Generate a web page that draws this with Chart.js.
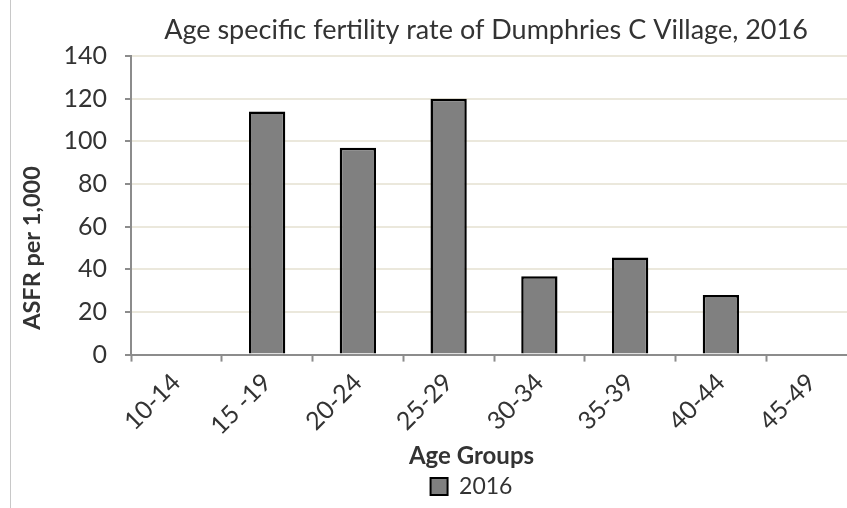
<!DOCTYPE html>
<html>
<head>
<meta charset="utf-8">
<script src="https://cdn.jsdelivr.net/npm/chart.js@4"></script>
<style>
  html, body { margin: 0; padding: 0; background: #fff; overflow: hidden; }
  .wrap { position: relative; width: 847px; height: 508px; overflow: hidden; }
  .frame-line { position: absolute; left: 10px; top: 0; width: 1px; height: 508px; background: #c8c8c8; }
  #asfrChart { position: absolute; left: 0; top: 0; }
</style>
</head>
<body>
<div class="wrap">
  <canvas id="asfrChart" width="860" height="508"></canvas>
  <div class="frame-line"></div>
</div>
<script>
const ageGroups = ["10-14", "15 -19", "20-24", "25-29", "30-34", "35-39", "40-44", "45-49"];
const asfr2016 = [0, 114, 97, 120, 36.7, 45.5, 28, 0];
const yTicks = [0, 20, 40, 60, 80, 100, 120, 140];

const chartTitle = "Age specific fertility rate of Dumphries C Village, 2016";
const yTitle = "ASFR per 1,000";
const xTitle = "Age Groups";

const textColor = "#333333";
const axisColor = "#8c8c8c";

// title and y axis title sit off-centre in the original, so draw them here;
// the legend block is also nudged right to where it sits in the original
const titlesPlugin = {
  id: "titles",
  afterLayout(chart) {
    chart.legend.left += 15;
    chart.legend.right += 15;
  },
  afterDraw(chart) {
    const ctx = chart.ctx;
    ctx.save();
    ctx.fillStyle = textColor;
    ctx.textAlign = "center";
    ctx.textBaseline = "middle";
    ctx.font = "27px Lato";
    ctx.fillText(chartTitle, 486, 30);
    ctx.translate(32, 248);
    ctx.rotate(-Math.PI / 2);
    ctx.font = "bold 23.5px Lato";
    ctx.fillText(yTitle, 0, 0);
    ctx.restore();
  },
};

const ctx = document.getElementById("asfrChart").getContext("2d");

new Chart(ctx, {
  type: "bar",
  data: {
    labels: ageGroups,
    datasets: [
      {
        label: "2016",
        data: asfr2016,
        backgroundColor: "#808080",
        borderColor: "#000000",
        borderWidth: 2.5,
        borderSkipped: "start",
        barPercentage: 0.4,
        categoryPercentage: 1,
      },
    ],
  },
  options: {
    responsive: false,
    animation: false,
    layout: { padding: { left: 56, right: 3, top: 56, bottom: 0 } },
    plugins: {
      tooltip: { enabled: false },
      legend: {
        position: "bottom",
        title: {
          display: true,
          text: xTitle,
          color: textColor,
          font: { family: "Lato", size: 24, weight: "bold", lineHeight: 1.1 },
          padding: { top: 2, bottom: 0 },
        },
        labels: {
          color: textColor,
          font: { family: "Lato", size: 23, lineHeight: 1.1 },
          boxWidth: 17,
          boxHeight: 17,
          padding: 4,
          generateLabels: (chart) => [
            {
              text: "2016",
              fillStyle: "#808080",
              strokeStyle: "#000000",
              lineWidth: 2,
              fontColor: textColor,
              datasetIndex: 0,
            },
          ],
        },
      },
    },
    scales: {
      x: {
        ticks: {
          minRotation: 45,
          maxRotation: 45,
          autoSkip: false,
          padding: 6,
          color: textColor,
          font: { family: "Lato", size: 25 },
        },
        grid: {
          offset: true,
          drawOnChartArea: false,
          tickColor: axisColor,
          tickLength: 7,
          tickWidth: 2,
        },
        border: { color: axisColor, width: 2 },
        afterFit: (scale) => {
          scale.height = 88;
        },
      },
      y: {
        min: 0,
        max: 140,
        afterBuildTicks: (scale) => {
          scale.ticks = yTicks.map((v) => ({ value: v }));
        },
        ticks: {
          padding: 18,
          color: textColor,
          font: { family: "Lato", size: 25 },
        },
        grid: {
          color: "#ebe8dc",
          lineWidth: 2,
          tickColor: axisColor,
          tickLength: 6,
          tickWidth: 2,
        },
        border: { color: axisColor, width: 2 },
        afterFit: (scale) => {
          scale.width = 75;
        },
      },
    },
  },
  plugins: [titlesPlugin],
});
</script>
</body>
</html>
